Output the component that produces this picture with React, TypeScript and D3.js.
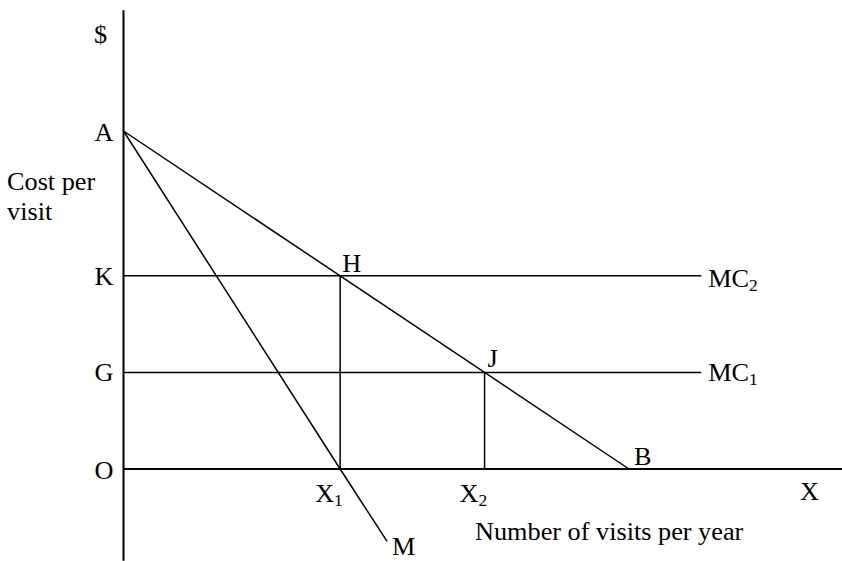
import React from "react";
import * as d3 from "d3";

// Demand curve A–B (quantity, price)
const demandQ = [0, 7];
const demandP = [7, 0];
// Curve A–M through X1
const mQ = [0, 3, 3.65];
const mP = [7, 0, -1.5];
// Marginal cost levels
const mcNames = ["MC2", "MC1"];
const mcLevels = [4, 2];
const mcEndQ = 8;
const mcLetters = ["K", "G"];
const eqLetters = ["H", "J"];
const eqQ = [3, 5];
const qLabels = ["X1", "X2"];
// Axis extents
const yAxisTop = 9.5;
const yAxisBottom = -1.9;
const xAxisRight = 9.95;

const W = 842;
const H = 561;
const FONT = "'Liberation Serif', 'Times New Roman', serif";
const FS = 25.5;
const SX = 1.03;

function Label({ x, y, text, sub, anchor = "start" }: { x: number; y: number; text: string; sub?: string; anchor?: string }) {
  return (
    <text
      transform={`translate(${x},${y}) scale(${SX},1)`}
      fontFamily={FONT}
      fontSize={FS}
      fill="#000"
      textAnchor={anchor}
    >
      {text}
      {sub ? (
        <tspan fontSize={17} dy={4}>
          {sub}
        </tspan>
      ) : null}
    </text>
  );
}

export default function App() {
  const x = d3.scaleLinear().domain([0, 7]).range([123.5, 629]);
  const y = d3.scaleLinear().domain([0, 7]).range([469, 131]);
  const line = d3
    .line<[number, number]>()
    .x((d) => x(d[0]))
    .y((d) => y(d[1]));

  const demand = demandQ.map((q, i) => [q, demandP[i]] as [number, number]);
  const mCurve = mQ.map((q, i) => [q, mP[i]] as [number, number]);

  return (
    <svg
      width={W}
      height={H}
      style={{ position: "absolute", left: 0, top: 0, display: "block", background: "#fff" }}
    >
      <rect width={W} height={H} fill="#fff" />
      {/* axes */}
      <line x1={x(0)} x2={x(0)} y1={y(yAxisTop)} y2={y(yAxisBottom)} stroke="#000" strokeWidth={2} />
      <line x1={x(0)} x2={x(xAxisRight)} y1={y(0)} y2={y(0)} stroke="#000" strokeWidth={2} />
      {/* MC lines */}
      {mcLevels.map((p, i) => (
        <line key={i} x1={x(0)} x2={x(mcEndQ)} y1={y(p)} y2={y(p)} stroke="#000" strokeWidth={1.5} />
      ))}
      {/* verticals */}
      {eqQ.map((q, i) => (
        <line key={i} x1={x(q)} x2={x(q)} y1={y(mcLevels[i])} y2={y(0)} stroke="#000" strokeWidth={1.5} />
      ))}
      <path d={line(demand) || ""} fill="none" stroke="#000" strokeWidth={1.5} />
      <path d={line(mCurve) || ""} fill="none" stroke="#000" strokeWidth={1.5} />

      {/* labels */}
      <Label x={x(0) - 23} y={43} text="$" anchor="middle" />
      <Label x={x(0) - 10} y={y(demandP[0]) + 10} text="A" anchor="end" />
      <Label x={7} y={190} text="Cost per" />
      <Label x={7} y={220} text="visit" />
      {mcLevels.map((p, i) => (
        <Label key={"l" + i} x={x(0) - 10} y={y(p) + 9} text={mcLetters[i]} anchor="end" />
      ))}
      <Label x={x(0) - 10} y={y(0) + 10} text="O" anchor="end" />
      {eqQ.map((q, i) => (
        <Label key={"e" + i} x={x(q) + (i === 0 ? 2 : 3)} y={y(mcLevels[i]) - (i === 0 ? 4 : 5)} text={eqLetters[i]} />
      ))}
      <Label x={x(demandQ[1]) + 5} y={y(0) - 4} text="B" />
      {mcLevels.map((p, i) => (
        <Label key={"m" + i} x={x(mcEndQ) + 7} y={y(p) + (i === 0 ? 11.5 : 8.5)} text="MC" sub={mcNames[i].slice(2)} />
      ))}
      {eqQ.map((q, i) => (
        <Label key={"q" + i} x={x(q) - 25} y={y(0) + 32.5} text="X" sub={qLabels[i].slice(1)} />
      ))}
      <Label x={x(mQ[2]) + 5} y={555} text="M" />
      <Label x={800} y={500} text="X" />
      <Label x={475} y={540} text="Number of visits per year" />
    </svg>
  );
}
